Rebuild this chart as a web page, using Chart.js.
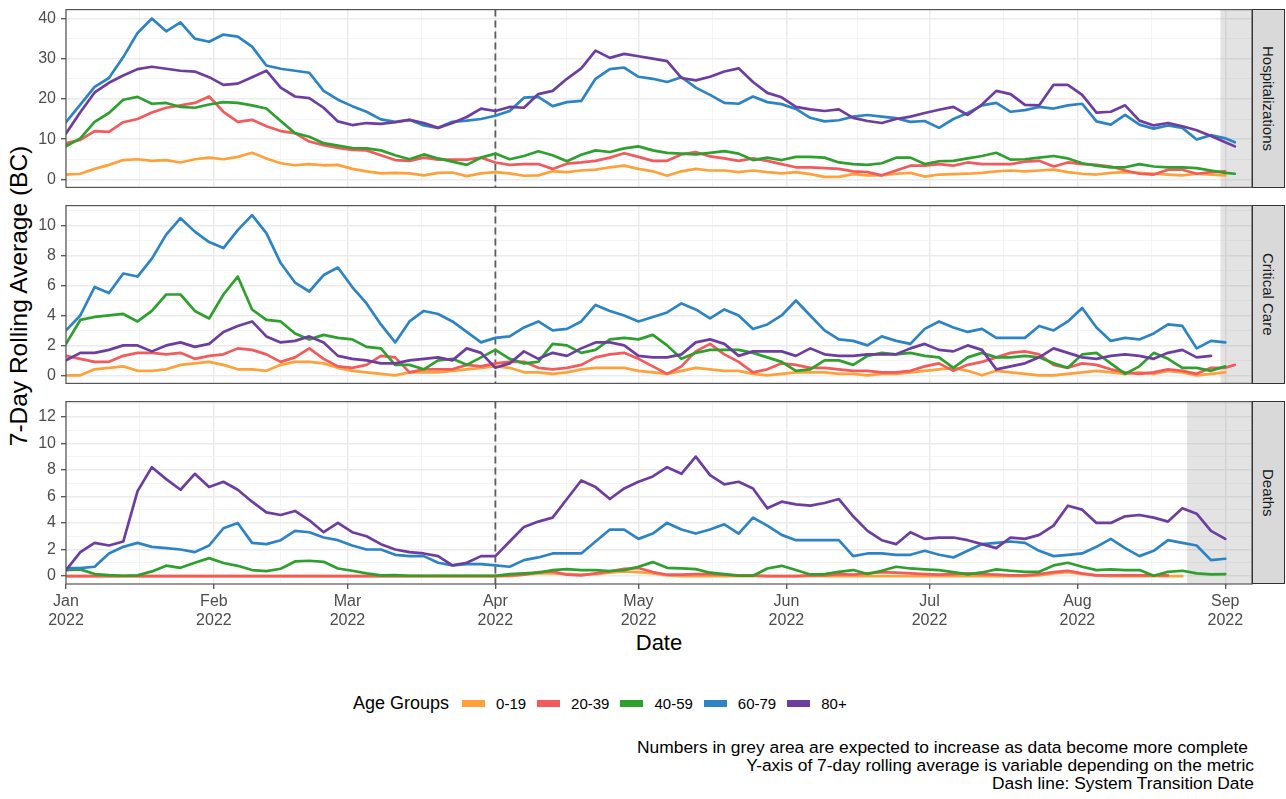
<!DOCTYPE html>
<html>
<head>
<meta charset="utf-8">
<script src="https://cdn.jsdelivr.net/npm/chart.js@4.4.1/dist/chart.umd.min.js"></script>
<style>
  html, body { margin:0; padding:0; background:#fff; }
  body { width:1286px; height:799px; position:relative; overflow:hidden; font-family:'Liberation Sans', Arial, Helvetica, sans-serif; }
  canvas { position:absolute; left:0; }
  .strip { position:absolute; background:#D9D9D9; border:1px solid #333; box-sizing:border-box; display:flex; align-items:center; justify-content:center; }
  .strip span { writing-mode:vertical-rl; font-size:15px; color:#1A1A1A; white-space:nowrap; }
  #ytitle { position:absolute; left:-181px; top:282px; width:400px; text-align:center; font-size:24.5px; line-height:28px; color:#000; transform:rotate(-90deg); white-space:nowrap; }
  #xtitle { position:absolute; left:559px; top:630px; width:200px; text-align:center; font-size:22px; line-height:26px; color:#000; }
  #legend { position:absolute; left:353px; top:690px; height:26px; display:flex; align-items:center; white-space:nowrap; }
  #legend .ttl { font-size:18px; color:#000; }
  #legend .key { width:23px; height:7px; }
  #legend .lab { font-size:15px; color:#000; margin-left:11px; }
  #notes { position:absolute; right:32px; top:738px; text-align:right; font-size:17.4px; line-height:18px; color:#000; white-space:nowrap; }
</style>
</head>
<body>
<div id="ytitle">7-Day Rolling Average (BC)</div>
<div id="xtitle">Date</div>
<div id="legend"></div>
<div id="notes"></div>
<script>
// ---------------- DATA ----------------
// days since 2022-01-01
const days = [0,3,6,9,12,15,18,21,24,27,30,33,36,39,42,45,48,51,54,57,60,63,66,69,72,75,78,81,84,87,90,93,96,99,102,105,108,111,114,117,120,123,126,129,132,135,138,141,144,147,150,153,156,159,162,165,168,171,174,177,180,183,186,189,192,195,198,201,204,207,210,213,216,219,222,225,228,231,234,237,240,243,245];

const ageGroups = ['0-19','20-39','40-59','60-79','80+'];
const panelNames = ['Hospitalizations','Critical Care','Deaths'];

// Hospitalizations
const hosp_0_19 = [1.2,1.4,2.6,3.6,4.8,5.0,4.6,4.8,4.2,5.0, 5.4,5.0,5.6,6.6,5.2,4.0,3.5,3.8,3.5,3.6, 2.6,2.0,1.5,1.6,1.5,1.0,1.6,1.7,0.8,1.5, 1.8,1.5,0.9,1.0,2.0,1.8,2.2,2.4,3.0,3.4, 2.6,2.0,0.9,2.0,2.6,2.2,2.2,1.8,2.2,1.8, 1.5,1.8,1.3,0.6,0.6,1.3,1.0,1.0,1.4,1.6, 0.7,1.2,1.3,1.4,1.6,2.0,2.2,2.0,2.2,2.4, 1.8,1.4,1.2,1.6,1.8,1.6,1.4,1.2,1.0,1.4, 1.2,1.0,null];
const hosp_20_39 = [9.0,9.8,12.0,11.8,14.2,15.0,16.6,17.8,18.4,19.0, 20.6,16.8,14.3,14.8,13.2,12.0,11.5,9.4,8.5,7.8, 7.3,7.2,6.0,4.8,4.6,5.4,4.9,4.9,4.9,5.4, 4.2,3.6,3.8,3.8,2.6,3.9,4.2,4.6,5.4,6.5, 5.6,4.6,4.6,6.2,6.8,5.7,5.2,4.6,5.2,4.6, 3.8,3.0,3.0,2.8,2.6,2.0,1.8,1.0,2.2,3.4, 3.4,3.8,3.4,4.2,3.8,3.8,3.8,4.4,4.6,3.2, 4.2,3.8,3.6,3.2,2.2,1.4,1.2,2.4,2.4,1.4, 1.8,2.0,null];
const hosp_40_59 = [8.2,10.2,14.3,16.5,19.8,20.5,18.8,19.0,18.0,17.8, 18.6,19.2,19.0,18.4,17.6,14.5,11.5,10.6,9.0,8.4, 7.8,7.7,7.2,6.0,5.0,6.2,5.2,4.4,3.6,5.4, 6.4,5.0,5.8,7.0,6.0,4.5,6.1,7.2,6.8,7.7, 8.2,7.2,6.6,6.4,6.2,6.6,7.0,6.4,4.8,5.4, 4.8,5.6,5.6,5.4,4.2,3.8,3.6,4.0,5.4,5.4, 3.8,4.5,4.6,5.2,5.8,6.6,4.9,5.0,5.4,5.8, 5.2,4.0,3.4,3.0,3.0,3.8,3.2,3.0,3.0,2.8, 2.2,1.6,1.4];
const hosp_60_79 = [14.2,18.6,23.0,25.2,30.4,36.4,40.0,36.8,39.0,35.0, 34.2,36.0,35.5,33.0,28.3,27.5,27.0,26.5,22.0,19.8, 18.2,16.8,14.9,14.3,14.8,13.4,12.8,14.3,14.6,15.0, 15.8,17.0,20.3,20.5,18.2,19.2,19.5,25.0,27.4,27.8, 25.5,25.0,24.2,25.4,22.8,21.0,19.0,18.8,20.6,19.2, 18.7,17.5,15.3,14.4,14.7,15.6,16.0,15.6,15.2,14.3, 14.5,12.8,15.0,16.5,18.4,19.0,16.8,17.2,18.0,17.6, 18.4,18.8,14.4,13.6,16.0,13.6,12.6,13.4,12.8,9.9, 11.0,10.2,9.2];
const hosp_80p = [11.4,16.7,21.6,24.0,25.8,27.4,28.0,27.5,27.0,26.8, 25.4,23.5,23.8,25.4,27.0,22.8,20.6,20.2,17.8,14.4, 13.5,14.0,13.8,14.2,14.8,14.0,12.8,14.0,15.5,17.6, 17.0,18.0,17.8,21.2,22.0,25.0,27.6,32.0,30.2,31.2, 30.6,30.0,29.4,25.2,24.6,25.5,26.8,27.6,24.2,21.5, 20.4,18.0,17.4,17.0,17.4,15.3,14.5,14.0,15.0,15.6, 16.5,17.3,18.0,16.0,18.6,22.0,21.2,18.5,18.4,23.5, 23.5,21.0,16.6,16.8,18.4,14.6,13.4,14.0,13.2,12.2, 10.8,9.2,8.2];

// Critical Care
const crit_0_19 = [0.0,0.0,0.4,0.5,0.6,0.3,0.3,0.4,0.7,0.8, 0.9,0.7,0.4,0.4,0.3,0.7,0.9,0.9,0.8,0.5, 0.3,0.2,0.1,0.0,0.2,0.2,0.2,0.3,0.4,0.5, 0.6,0.5,0.2,0.2,0.1,0.2,0.4,0.5,0.5,0.5, 0.3,0.2,0.1,0.3,0.5,0.4,0.3,0.3,0.1,0.0, 0.1,0.2,0.2,0.2,0.1,0.1,0.0,0.1,0.1,0.2, 0.3,0.4,0.5,0.3,0.0,0.3,0.2,0.1,0.0,0.0, 0.1,0.2,0.3,0.2,0.1,0.2,0.1,0.3,0.2,0.0, 0.1,0.2,null];
const crit_20_39 = [1.3,1.1,0.9,0.9,1.3,1.5,1.5,1.4,1.5,1.1, 1.3,1.4,1.8,1.7,1.4,0.9,1.2,1.8,1.1,0.6, 0.5,0.7,1.3,1.2,0.2,0.4,0.4,0.4,0.7,0.6, 0.8,0.9,0.9,0.5,0.4,0.5,0.7,1.2,1.4,1.5, 1.1,0.6,0.1,0.6,1.6,2.1,1.4,0.9,0.2,0.4, 0.8,0.7,0.5,0.5,0.4,0.3,0.3,0.2,0.2,0.3, 0.6,0.8,0.3,0.7,0.9,1.2,1.5,1.6,1.4,0.7, 0.5,0.8,0.7,0.4,0.2,0.1,0.2,0.4,0.3,0.1, 0.5,0.5,0.7];
const crit_40_59 = [2.1,3.7,3.9,4.0,4.1,3.6,4.3,5.4,5.4,4.3, 3.8,5.4,6.6,4.4,3.7,3.6,2.8,2.4,2.7,2.5, 2.4,1.9,1.8,0.7,0.7,0.4,1.0,1.1,0.7,1.2, 1.7,1.1,0.8,0.9,2.1,2.0,1.5,1.7,2.4,2.5, 2.4,2.7,2.0,1.1,1.5,1.7,1.7,1.7,1.5,1.2, 0.9,0.3,0.4,1.0,1.0,0.7,1.3,1.5,1.4,1.5, 1.3,1.2,0.5,1.2,1.5,1.2,1.2,1.3,1.2,0.8, 0.5,1.4,1.5,0.8,0.1,0.6,1.5,1.1,0.5,0.5, 0.3,0.6,null];
const crit_60_79 = [3.0,4.0,5.9,5.5,6.8,6.6,7.8,9.4,10.5,9.6, 8.9,8.5,9.7,10.7,9.5,7.5,6.2,5.6,6.7,7.2, 5.9,4.8,3.4,2.2,3.6,4.3,4.1,3.6,2.9,2.2, 2.5,2.6,3.2,3.6,3.0,3.1,3.6,4.7,4.3,4.0, 3.6,3.9,4.2,4.8,4.4,3.8,4.4,4.0,3.1,3.4, 4.0,5.0,4.0,3.0,2.4,2.3,2.0,2.6,2.3,2.1, 3.1,3.6,3.2,2.9,3.1,2.5,2.5,2.5,3.3,3.0, 3.6,4.5,3.2,2.3,2.5,2.4,2.8,3.4,3.3,1.8, 2.3,2.2,null];
const crit_80p = [1.0,1.5,1.5,1.7,2.0,2.0,1.6,2.0,2.2,1.9, 2.1,2.9,3.3,3.6,2.6,2.2,2.3,2.6,2.2,1.3, 1.1,1.0,0.8,0.8,1.0,1.1,1.2,1.0,1.8,1.5, 0.5,0.8,1.6,1.1,1.5,1.3,1.8,2.2,2.2,2.0, 1.3,1.2,1.2,1.4,2.2,2.4,2.1,1.3,1.6,1.6, 1.6,1.3,1.8,1.4,1.3,1.3,1.4,1.4,1.4,1.8, 2.1,1.7,1.6,2.0,1.7,0.4,0.6,0.8,1.2,1.8, 1.5,1.2,1.1,1.3,1.4,1.3,1.1,1.5,1.7,1.2, 1.3,null,null];

// Deaths
const death_0_19 = [0,0,0,0,0,0,0,0,0,0, 0,0,0,0,0,0,0,0,0,0, 0,0,0,0,0,0,0,0,0,0, 0,0,0.1,0.2,0.2,0.15,0.1,0.15,0.25,0.35, 0.3,0.2,0.05,0,0,0,0,0,0,0, 0,0,0,0,0,0,0,0,0,0, 0,0,0,0,0,0,0,0,0.05,0.2, 0.3,0.15,0.05,0,0,0,0,0,0,null, null,null,null];
const death_20_39 = [0,0,0,0,0,0,0,0,0,0, 0,0,0,0,0,0,0,0,0,0, 0,0,0,0,0,0,0,0,0,0, 0,0.05,0.1,0.3,0.35,0.1,0.05,0.2,0.35,0.55, 0.6,0.3,0.1,0.1,0.15,0.15,0.1,0.05,0.05,0, 0,0,0.05,0.05,0.15,0.1,0.2,0.3,0.25,0.2, 0.15,0.1,0.15,0.2,0.15,0.1,0.05,0.05,0.15,0.3, 0.4,0.2,0.05,0.05,0.05,0.05,0.05,0.05,null,null, null,null,null];
const death_40_59 = [0.45,0.5,0.15,0.07,0.02,0.05,0.35,0.78,0.62,1.0, 1.35,0.98,0.77,0.45,0.37,0.55,1.1,1.15,1.07,0.57, 0.4,0.2,0.05,0.07,0.02,0.02,0.02,0.02,0.02,0.02, 0.02,0.15,0.2,0.25,0.45,0.52,0.45,0.45,0.38,0.45, 0.7,1.05,0.62,0.57,0.52,0.25,0.15,0.02,0.02,0.57, 0.77,0.45,0.12,0.15,0.32,0.45,0.15,0.4,0.7,0.57, 0.5,0.45,0.3,0.12,0.27,0.5,0.4,0.32,0.32,0.8, 1.0,0.7,0.45,0.5,0.45,0.45,0.02,0.32,0.4,0.2, 0.12,0.15,null];
const death_60_79 = [0.6,0.6,0.7,1.7,2.2,2.5,2.2,2.1,2.0,1.8, 2.3,3.6,4.0,2.5,2.4,2.7,3.4,3.3,2.9,2.7, 2.3,2.0,2.0,1.6,1.5,1.5,1.0,0.8,0.9,0.9, 0.8,0.7,1.2,1.4,1.7,1.7,1.7,2.6,3.5,3.5, 2.8,3.2,4.0,3.5,3.2,3.5,3.9,3.2,4.4,3.8, 3.1,2.7,2.7,2.7,2.7,1.5,1.7,1.7,1.6,1.6, 1.9,1.6,1.4,1.9,2.4,2.5,2.6,2.5,1.9,1.5, 1.6,1.7,2.2,2.8,2.1,1.5,1.9,2.7,2.5,2.3, 1.2,1.3,null];
const death_80p = [0.45,1.8,2.5,2.3,2.6,6.4,8.2,7.3,6.5,7.7, 6.7,7.1,6.5,5.6,4.8,4.6,4.9,4.2,3.3,4.0, 3.3,3.0,2.4,2.0,1.8,1.7,1.5,0.8,1.0,1.5, 1.5,2.6,3.7,4.1,4.4,5.8,7.2,6.7,5.8,6.6, 7.1,7.5,8.2,7.7,9.0,7.6,6.9,7.1,6.6,5.1, 5.6,5.4,5.3,5.5,5.8,4.5,3.4,2.7,2.4,3.3, 2.8,2.9,2.9,2.7,2.4,2.1,2.9,2.8,3.1,3.8, 5.3,5.0,4.0,4.0,4.5,4.6,4.4,4.1,5.1,4.7, 3.4,2.8,null];

// axis ticks / labels
const monthTickDays = [0,31,59,90,120,151,181,212,243];
const monthLabels = ['Jan','Feb','Mar','Apr','May','Jun','Jul','Aug','Sep'];
const yearLabel = '2022';
const hospYTicks = [0,10,20,30,40];
const critYTicks = [0,2,4,6,8,10];
const deathYTicks = [0,2,4,6,8,10,12];
const transitionDay = 90;            // 2022-04-01 System Transition Date
const greyFromDay = [242, 242, 235]; // start of incomplete-data grey area per panel

const notes = [
  'Numbers in grey area are expected to increase as data become more complete',
  'Y-axis of 7-day rolling average is variable depending on the metric',
  'Dash line: System Transition Date'
];

// ---------------- STYLE ----------------
const groupColors = ['#FFA13A','#F35A5C','#2EA02E','#2C84C5','#6D3E9F'];
const FONT = "'Liberation Sans', Arial, Helvetica, sans-serif";
const X_MIN = 0, X_MAX = 248.6;

function minorsOf(major, lo, hi) {
  const out = [];
  for (let i = 0; i < major.length - 1; i++) out.push((major[i] + major[i + 1]) / 2);
  const s0 = major[1] - major[0], s1 = major[major.length - 1] - major[major.length - 2];
  const f = major[0] - s0 / 2, l = major[major.length - 1] + s1 / 2;
  if (f >= lo) out.unshift(f);
  if (l <= hi) out.push(l);
  return out;
}

const panelDeco = {
  id: 'panelDeco',
  beforeDatasetsDraw(chart, args, opts) {
    const { ctx, chartArea: a, scales: { x } } = chart;
    ctx.save();
    const gx = x.getPixelForValue(opts.greyFrom);
    ctx.fillStyle = 'rgba(127,127,127,0.22)';
    ctx.fillRect(gx, a.top, a.right - gx, a.bottom - a.top);
    const tx = x.getPixelForValue(opts.transition);
    ctx.strokeStyle = '#5E5E5E';
    ctx.lineWidth = 1.8;
    ctx.setLineDash([7, 4]);
    ctx.beginPath();
    ctx.moveTo(tx, a.top);
    ctx.lineTo(tx, a.bottom);
    ctx.stroke();
    ctx.restore();
  },
  afterDraw(chart) {
    const { ctx, chartArea: a } = chart;
    ctx.save();
    ctx.strokeStyle = '#555555';
    ctx.lineWidth = 1.2;
    ctx.strokeRect(a.left, a.top, a.right - a.left, a.bottom - a.top);
    ctx.restore();
  }
};

function makePanel(idx, series, yMin, yMax, yMajor, canvasTop, canvasH, isBottom) {
  const cv = document.createElement('canvas');
  cv.width = 1286; cv.height = canvasH;
  cv.style.width = '1286px'; cv.style.height = canvasH + 'px';
  cv.style.top = canvasTop + 'px';
  document.body.appendChild(cv);

  const yMinor = minorsOf(yMajor, yMin, yMax);
  const xMinor = minorsOf(monthTickDays, X_MIN, X_MAX);
  const isMajY = v => yMajor.some(m => Math.abs(m - v) < 1e-9);
  const isMajX = v => monthTickDays.some(m => Math.abs(m - v) < 1e-9);

  const datasets = series.map((arr, g) => ({
    label: ageGroups[g],
    data: days.map((d, i) => ({ x: d, y: arr[i] })),
    borderColor: groupColors[g],
    backgroundColor: groupColors[g],
    borderWidth: 2.7,
    pointRadius: 0,
    tension: 0,
    fill: false,
    spanGaps: false,
    order: 5 - g,
    borderJoinStyle: 'round',
    borderCapStyle: 'round'
  }));

  const chart = new Chart(cv, {
    type: 'line',
    data: { datasets },
    plugins: [panelDeco],
    options: {
      responsive: false,
      animation: false,
      devicePixelRatio: 1,
      events: [],
      layout: { padding: { top: 12, bottom: isBottom ? 10 : 12, left: 0, right: 34 } },
      plugins: {
        legend: { display: false },
        tooltip: { enabled: false },
        panelDeco: { greyFrom: greyFromDay[idx], transition: transitionDay }
      },
      scales: {
        x: {
          type: 'linear',
          min: X_MIN, max: X_MAX,
          afterBuildTicks: ax => { ax.ticks = monthTickDays.concat(xMinor).sort((a, b) => a - b).map(v => ({ value: v })); },
          afterFit: ax => { ax.height = isBottom ? 50 : 0; },
          border: { display: false },
          grid: {
            drawOnChartArea: true,
            drawTicks: isBottom,
            tickLength: 5,
            color: c => (c.tick && isMajX(c.tick.value)) ? '#EBEBEB' : '#F1F1F1',
            lineWidth: c => (c.tick && isMajX(c.tick.value)) ? 1.5 : 0.8,
            tickColor: c => (c.tick && isMajX(c.tick.value)) ? '#333333' : 'rgba(0,0,0,0)',
            tickWidth: 1.1
          },
          ticks: {
            display: isBottom,
            autoSkip: false,
            maxRotation: 0,
            minRotation: 0,
            padding: 3,
            color: '#4D4D4D',
            font: { family: FONT, size: 16, lineHeight: 1.2 },
            callback: v => { const k = monthTickDays.indexOf(v); return k >= 0 ? [monthLabels[k], yearLabel] : ''; }
          }
        },
        y: {
          type: 'linear',
          min: yMin, max: yMax,
          afterBuildTicks: ax => { ax.ticks = yMajor.concat(yMinor).sort((a, b) => a - b).map(v => ({ value: v })); },
          afterFit: ax => { ax.width = 66; },
          border: { display: false },
          grid: {
            drawOnChartArea: true,
            drawTicks: true,
            tickLength: 5,
            color: c => (c.tick && isMajY(c.tick.value)) ? '#EBEBEB' : '#F1F1F1',
            lineWidth: c => (c.tick && isMajY(c.tick.value)) ? 1.5 : 0.8,
            tickColor: c => (c.tick && isMajY(c.tick.value)) ? '#333333' : 'rgba(0,0,0,0)',
            tickWidth: 1.1
          },
          ticks: {
            autoSkip: false,
            padding: 5,
            color: '#4D4D4D',
            font: { family: FONT, size: 16, lineHeight: 1.2 },
            callback: v => isMajY(v) ? String(v) : ''
          }
        }
      }
    }
  });

  // strip label on the right, aligned to the drawn panel
  const a = chart.chartArea;
  const st = document.createElement('div');
  st.className = 'strip';
  st.style.left = (a.right - 0.5) + 'px';
  st.style.top = (canvasTop + a.top - 0.5) + 'px';
  st.style.width = (1285 - a.right) + 'px';
  st.style.height = (a.bottom - a.top + 1) + 'px';
  const sp = document.createElement('span');
  sp.textContent = panelNames[idx];
  st.appendChild(sp);
  document.body.appendChild(st);
  return chart;
}

makePanel(0, [hosp_0_19, hosp_20_39, hosp_40_59, hosp_60_79, hosp_80p], -2.0, 42.2, hospYTicks, -5, 207, false);
makePanel(1, [crit_0_19, crit_20_39, crit_40_59, crit_60_79, crit_80p], -0.54, 11.34, critYTicks, 191, 207, false);
makePanel(2, [death_0_19, death_20_39, death_40_59, death_60_79, death_80p], -0.6, 13.14, deathYTicks, 387, 257, true);

// legend
const lg = document.getElementById('legend');
const t = document.createElement('span'); t.className = 'ttl'; t.textContent = 'Age Groups'; lg.appendChild(t);
ageGroups.forEach((g, i) => {
  const k = document.createElement('span'); k.className = 'key'; k.style.background = groupColors[i];
  k.style.marginLeft = (i === 0 ? 13 : 11) + 'px';
  const l = document.createElement('span'); l.className = 'lab'; l.textContent = g;
  lg.appendChild(k); lg.appendChild(l);
});

// caption
const nt = document.getElementById('notes');
notes.forEach((s, i) => {
  const d = document.createElement('div'); d.textContent = s;
  if (i === 0) d.style.paddingRight = '6px';
  nt.appendChild(d);
});
</script>
</body>
</html>
